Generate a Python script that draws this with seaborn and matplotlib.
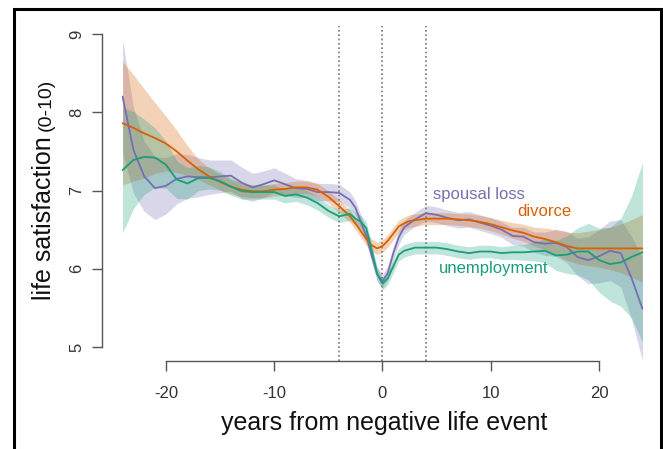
import numpy as np
import pandas as pd
import matplotlib
matplotlib.use("Agg")
import matplotlib.pyplot as plt
from matplotlib.patches import Rectangle
import seaborn as sns

# ---------------- data ----------------
years = [-24, -23, -22, -21, -20, -19, -18, -17, -16, -15, -14, -13, -12, -11, -10,
         -9, -8, -7, -6, -5, -4, -3,
         -2.5, -2, -1.5, -1, -0.5, 0, 0.5, 1, 1.5, 2, 2.5, 3,
         4, 5, 6, 7, 8, 9, 10, 11, 12, 13, 14, 15, 16, 17, 18, 19, 20, 21, 22, 23, 24]

spousal_loss = [8.20, 7.52, 7.18, 7.03, 7.06, 7.15, 7.18, 7.17, 7.17, 7.18, 7.19, 7.10, 7.04, 7.08, 7.13,
                7.08, 7.03, 7.02, 6.98, 6.98, 6.97, 6.88,
                6.78, 6.60, 6.42, 6.17, 5.93, 5.84, 5.95, 6.20, 6.40, 6.53, 6.58, 6.63,
                6.71, 6.69, 6.65, 6.62, 6.63, 6.59, 6.55, 6.50, 6.42, 6.41, 6.34, 6.32, 6.33, 6.28,
                6.15, 6.11, 6.16, 6.23, 6.20, 5.88, 5.49]
spousal_ci = [0.72, 0.55, 0.45, 0.40, 0.36, 0.32, 0.28, 0.25, 0.22, 0.21, 0.20, 0.20, 0.18, 0.17, 0.16,
              0.14, 0.12, 0.11, 0.11, 0.11, 0.11, 0.10,
              0.09, 0.09, 0.09, 0.09, 0.09, 0.09, 0.09, 0.09, 0.09, 0.09, 0.09, 0.09,
              0.10, 0.10, 0.10, 0.10, 0.10, 0.10, 0.10, 0.10, 0.11, 0.12, 0.13, 0.15, 0.17, 0.20,
              0.24, 0.30, 0.34, 0.38, 0.43, 0.53, 0.66]

divorce = [7.86, 7.80, 7.73, 7.67, 7.60, 7.50, 7.38, 7.27, 7.18, 7.11, 7.05, 7.01, 6.99, 6.99, 7.01,
           7.02, 7.04, 7.04, 7.01, 6.92, 6.80, 6.67,
           6.58, 6.48, 6.38, 6.30, 6.26, 6.29, 6.36, 6.45, 6.54, 6.58, 6.61, 6.62,
           6.64, 6.64, 6.64, 6.63, 6.62, 6.60, 6.57, 6.53, 6.49, 6.46, 6.41, 6.38, 6.34, 6.29,
           6.26, 6.26, 6.26, 6.26, 6.26, 6.26, 6.26]
divorce_ci = [0.79, 0.68, 0.57, 0.45, 0.35, 0.27, 0.19, 0.13, 0.11, 0.10, 0.09, 0.09, 0.08, 0.08, 0.08,
              0.08, 0.08, 0.08, 0.08, 0.08, 0.08, 0.08,
              0.08, 0.08, 0.08, 0.08, 0.08, 0.08, 0.08, 0.08, 0.08, 0.08, 0.08, 0.08,
              0.075, 0.075, 0.075, 0.075, 0.08, 0.08, 0.085, 0.09, 0.10, 0.11, 0.12, 0.14, 0.16, 0.18,
              0.20, 0.22, 0.24, 0.27, 0.31, 0.37, 0.43]

unemployment = [7.26, 7.39, 7.43, 7.42, 7.33, 7.14, 7.09, 7.16, 7.16, 7.12, 7.05, 6.99, 6.98, 6.98, 6.98,
                6.93, 6.95, 6.91, 6.84, 6.74, 6.67, 6.70,
                6.64, 6.60, 6.52, 6.24, 5.94, 5.81, 5.88, 6.03, 6.18, 6.23, 6.25, 6.27,
                6.27, 6.27, 6.25, 6.22, 6.20, 6.22, 6.22, 6.20, 6.21, 6.21, 6.22, 6.23, 6.17, 6.18,
                6.22, 6.22, 6.11, 6.06, 6.08, 6.15, 6.21]
unemployment_ci = [0.80, 0.62, 0.48, 0.38, 0.30, 0.24, 0.20, 0.16, 0.14, 0.12, 0.11, 0.10, 0.09, 0.09, 0.09,
                   0.09, 0.09, 0.09, 0.09, 0.08, 0.08, 0.08,
                   0.08, 0.08, 0.08, 0.08, 0.08, 0.08, 0.08, 0.08, 0.08, 0.08, 0.08, 0.08,
                   0.08, 0.08, 0.08, 0.08, 0.08, 0.08, 0.08, 0.08, 0.09, 0.10, 0.12, 0.15, 0.19, 0.24,
                   0.30, 0.36, 0.41, 0.47, 0.56, 0.78, 1.15]

events = ["spousal loss", "divorce", "unemployment"]
x_ticks = [-20, -10, 0, 10, 20]
y_ticks = [5, 6, 7, 8, 9]
event_lines = [-4, 0, 4]
colors = {"spousal loss": "#7570b3", "divorce": "#d95f02", "unemployment": "#1b9e77"}

# ---------------- figure ----------------
sns.set_style("white")
plt.rcParams["font.family"] = ["Liberation Sans", "DejaVu Sans"]

W, H = 663, 449
fig = plt.figure(figsize=(W / 100, H / 100), dpi=100)
ax_left, ax_right, ax_top, ax_bottom = 102, 663, 26, 361
ax = fig.add_axes([ax_left / W, 1 - ax_bottom / H, (ax_right - ax_left) / W, (ax_bottom - ax_top) / H])

series = {"spousal loss": (spousal_loss, spousal_ci),
          "divorce": (divorce, divorce_ci),
          "unemployment": (unemployment, unemployment_ci)}

# confidence bands
yr = np.array(years)
for ev in ["spousal loss", "divorce", "unemployment"]:
    v, ci = series[ev]
    v = np.array(v); ci = np.array(ci)
    ax.fill_between(yr, v - ci, v + ci, color=colors[ev], alpha=0.28, linewidth=0, zorder=1)

# lines
df = pd.DataFrame({
    "year": years * 3,
    "value": spousal_loss + divorce + unemployment,
    "event": [e for e in events for _ in years],
})
sns.lineplot(data=df, x="year", y="value", hue="event", palette=colors, ax=ax,
             legend=False, linewidth=1.3, errorbar=None, zorder=3)

# dotted event lines
for xv in event_lines:
    ax.axvline(xv, color="#777777", linestyle=(0, (1, 1.6)), linewidth=1.2, zorder=2)

# axes styling (R-like detached axes)
ax.set_xlim(-25.9, 25.9)
ax.set_ylim(9 - (ax_bottom - 34) / 78.25, 9 + (34 - ax_top) / 78.25)
for s in ["top", "right"]:
    ax.spines[s].set_visible(False)
ax.spines["left"].set_bounds(5, 9)
ax.spines["bottom"].set_bounds(-20, 20)
for s in ["left", "bottom"]:
    ax.spines[s].set_color("#555555")
    ax.spines[s].set_linewidth(1.0)
ax.set_xticks(x_ticks)
ax.set_xticklabels([str(t) for t in x_ticks])
ax.set_yticks(y_ticks)
ax.set_yticklabels([str(t) for t in y_ticks])
ax.tick_params(axis="both", which="major", bottom=True, left=True, direction="out",
               length=7, width=1.0, color="#555555", labelcolor="#333333", labelsize=12)
ax.tick_params(axis="x", pad=11)
ax.tick_params(axis="y", pad=6)
for lab in ax.get_yticklabels():
    lab.set_rotation(90)
    lab.set_va("center")
ax.set_xlabel("")
ax.set_ylabel("")
ax.patch.set_alpha(0)

# series labels
ax.text(4.66, 6.89, "spousal loss", color=colors["spousal loss"], fontsize=12, va="baseline", ha="left", zorder=5)
ax.text(12.45, 6.67, "divorce", color=colors["divorce"], fontsize=12, va="baseline", ha="left", zorder=5)
ax.text(5.22, 5.94, "unemployment", color=colors["unemployment"], fontsize=12, va="baseline", ha="left", zorder=5)

# axis titles
fig.text(384 / W, 1 - 430 / H, "years from negative life event", fontsize=18, color="#111111",
         ha="center", va="baseline")
fig.text(51 / W, 1 - 300 / H, "life satisfaction", fontsize=18, color="#111111",
         rotation=90, rotation_mode="anchor", ha="left", va="baseline")
fig.text(51 / W, 1 - 131 / H, "(0-10)", fontsize=14, color="#111111",
         rotation=90, rotation_mode="anchor", ha="left", va="baseline")

# outer frame
fig.add_artist(Rectangle((13.5 / W, -0.1), (660.7 - 13.5) / W, (H - 9.5) / H + 0.1,
                         transform=fig.transFigure, fill=False, edgecolor="black", linewidth=2.2))

fig.savefig("out.png", dpi=100)
